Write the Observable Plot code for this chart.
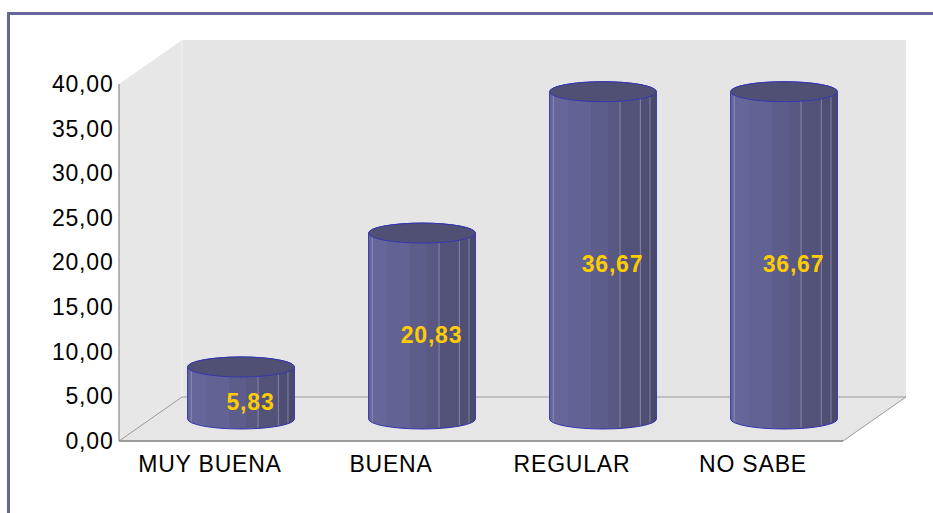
<!DOCTYPE html>
<html><head><meta charset="utf-8">
<script src="https://cdn.jsdelivr.net/npm/d3@7"></script>
<script src="https://cdn.jsdelivr.net/npm/@observablehq/plot@0.6"></script>
<style>html,body{margin:0;padding:0;background:#fff;overflow:hidden;}</style>
</head><body><div id="chart"></div>
<script>
const categories = ["MUY BUENA", "BUENA", "REGULAR", "NO SABE"];
const values = [5.83, 20.83, 36.67, 36.67];
const valueLabels = ["5,83", "20,83", "36,67", "36,67"];
const yTicks = [0, 5, 10, 15, 20, 25, 30, 35, 40];
const yTickLabels = ["0,00", "5,00", "10,00", "15,00", "20,00", "25,00", "30,00", "35,00", "40,00"];

const data = categories.map((c, i) => ({cat: c, v: values[i], label: valueLabels[i]}));

const DX = 63, DY = -44; // 3D depth offset (pixels)
const bwOf = s => typeof s.bandwidth === "function" ? s.bandwidth() : (s.bandwidth || 0);

// outer frame
const frameMark = (index, scales, vals, dim) => {
  const g = d3.create("svg:g");
  g.append("path")
    .attr("d", `M8.5,${dim.height}V13.5H${dim.width}`)
    .attr("fill", "none").attr("stroke", "#66669c").attr("stroke-width", 3);
  return g.node();
};

// walls & floor
const wallsMark = (index, {x, y}) => {
  const g = d3.create("svg:g");
  const bw = bwOf(x);
  const x0 = x(categories[0]), x1 = x(categories[categories.length - 1]) + bw;
  const yT = y(yTicks[yTicks.length - 1]), yB = y(0);
  g.append("path").attr("d", `M${x0},${yT}L${x0 + DX},${yT + DY}L${x0 + DX},${yB + DY}L${x0},${yB}Z`).attr("fill", "#e7e7e7");
  g.append("rect").attr("x", x0 + DX).attr("y", yT + DY).attr("width", x1 - x0).attr("height", yB - yT).attr("fill", "#e5e5e5");
  g.append("path").attr("d", `M${x0},${yB}L${x0 + DX},${yB + DY}L${x1 + DX},${yB + DY}L${x1},${yB}Z`).attr("fill", "#e6e6e6");
  g.append("line").attr("x1", x0 + DX).attr("x2", x0 + DX).attr("y1", yT + DY).attr("y2", yB + DY).attr("stroke", "#f2f2f2");
  g.append("path").attr("d", `M${x0},${yB}L${x0 + DX},${yB + DY}L${x1 + DX},${yB + DY}L${x1},${yB}`)
    .attr("fill", "none").attr("stroke", "#9a9a9a").attr("stroke-width", 1);
  g.append("line").attr("x1", x0).attr("x2", x1).attr("y1", yB).attr("y2", yB).attr("stroke", "#9c9c9c").attr("stroke-width", 2);
  g.append("line").attr("x1", x0).attr("x2", x0).attr("y1", yT).attr("y2", yB).attr("stroke", "#8a8a8a").attr("stroke-width", 1.2);
  return g.node();
};

// cylinders
const facets = [
  [0.00, 0.17, "#66669a"], [0.17, 0.39, "#626295"], [0.39, 0.55, "#5d5d8c"],
  [0.55, 0.66, "#585883"], [0.66, 0.85, "#53537a"], [0.85, 0.94, "#4f4f73"], [0.94, 1.00, "#4a4a6b"]
];
const hilites = [0.035, 0.66, 0.85, 0.94];
const cylMark = (index, {x, y}) => {
  const g = d3.create("svg:g");
  const bw = bwOf(x);
  const defs = g.append("defs");
  const grad = defs.append("linearGradient").attr("id", "cylGrad").attr("x1", 0).attr("x2", 1).attr("y1", 0).attr("y2", 0);
  facets.forEach(([a, b, c]) => {
    grad.append("stop").attr("offset", a).attr("stop-color", c);
    grad.append("stop").attr("offset", b).attr("stop-color", c);
  });
  data.forEach(d => {
    const cx = x(d.cat) + bw / 2 + DX / 2;
    const yb = y(0) + DY / 2, yt = y(d.v) + DY / 2;
    const rx = bw * 0.295, ry = 10;
    g.append("path")
      .attr("d", `M${cx - rx},${yt}L${cx - rx},${yb}A${rx},${ry} 0 0 0 ${cx + rx},${yb}L${cx + rx},${yt}A${rx},${ry} 0 0 0 ${cx - rx},${yt}Z`)
      .attr("fill", "url(#cylGrad)").attr("stroke", "#3434b0").attr("stroke-width", 1);
    hilites.forEach(h => {
      const px = cx - rx + 2 * rx * h;
      const u = 2 * h - 1, off = ry * Math.sqrt(1 - u * u);
      g.append("line").attr("x1", px).attr("x2", px).attr("y1", yt + off).attr("y2", yb + off - 1)
        .attr("stroke", "#9a9ac4").attr("stroke-opacity", 0.7).attr("stroke-width", 1);
    });
    g.append("ellipse").attr("cx", cx).attr("cy", yt).attr("rx", rx).attr("ry", ry)
      .attr("fill", "#505074").attr("stroke", "#3636b0").attr("stroke-width", 1);
  });
  return g.node();
};

const chart = Plot.plot({
  width: 933,
  height: 513,
  marginLeft: 118,
  marginRight: 90,
  marginTop: 84,
  marginBottom: 72,
  style: {fontFamily: "'Liberation Sans', Arial, sans-serif", fontSize: "23px", color: "#000", background: "transparent", letterSpacing: "0.8px"},
  x: {type: "band", domain: categories, padding: 0, tickSize: 0, tickPadding: 14, label: null},
  y: {domain: [0, 40], ticks: yTicks, tickSize: 0, tickPadding: 5, label: null,
      tickFormat: d => yTickLabels[yTicks.indexOf(d)]},
  marks: [
    frameMark,
    wallsMark,
    cylMark,
    Plot.text(data, {x: "cat", y: d => d.v / 2, text: "label", dx: DX / 2 + 9, dy: DY / 2 + 9,
      fill: "#ffcc00", fontSize: 23, fontWeight: "bold"})
  ]
});
document.getElementById("chart").appendChild(chart);
</script>
</body></html>
